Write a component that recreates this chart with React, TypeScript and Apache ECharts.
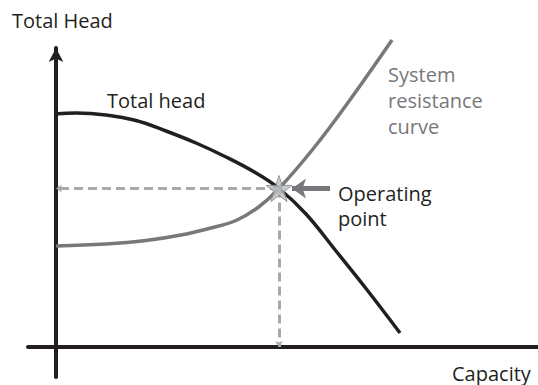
import React, { useEffect, useRef } from "react";
import * as echarts from "echarts";

// Capacity (x) and total head (y) of the pump curve
const headCapacity = [0, 4, 10, 16, 22, 28, 34, 40, 44.6, 50, 56, 62, 68.8];
const headValues = [46.6, 46.8, 46.4, 45.3, 43.2, 40.8, 38.0, 34.8, 31.7, 26.6, 19.2, 11.7, 2.8];
// System resistance curve
const systemCapacity = [0, 10, 18, 25, 31, 36, 40.4, 44.6, 51.4, 58.2, 67.2];
const systemValues = [20.2, 20.6, 21.3, 22.4, 23.8, 25.3, 27.9, 31.7, 39.6, 48.6, 61.4];
// Operating point (intersection)
const operatingPoint = [44.6, 31.7];
// Pointer arrow (capacity from / to) aimed at the operating point
const pointerFrom = 54.8;
const pointerTo = 47.2;

const labels = {
  yAxis: "Total Head",
  xAxis: "Capacity",
  head: "Total head",
  system: "System\nresistance\ncurve",
  op: "Operating\npoint",
};

const FONT = '"Open Sans", "Noto Sans", sans-serif';
const STAR =
  "path://M50,0 L61.8,35.2 L98.9,35.5 L69.1,57.7 L80.2,93.1 L50,71.5 L19.8,93.1 L30.9,57.7 L1.1,35.5 L38.2,35.2 Z";

export default function App() {
  const ref = useRef<HTMLDivElement>(null);
  useEffect(() => {
    if (!ref.current) return;
    const chart = echarts.init(ref.current, null, { renderer: "svg" });
    const axisColor = "#231f20";
    chart.setOption({
      animation: false,
      grid: { left: 28, right: 0, top: 48, bottom: 8 },
      xAxis: {
        type: "value",
        min: -5.6,
        max: 96.4,
        axisLine: {
          onZero: true,
          lineStyle: { color: axisColor, width: 4 },
          symbol: ["none", "none"],
        },
        axisTick: { show: false },
        axisLabel: { show: false },
        splitLine: { show: false },
      },
      yAxis: {
        type: "value",
        min: -6,
        max: 59.8,
        axisLine: {
          onZero: true,
          lineStyle: { color: axisColor, width: 4 },
          symbol: ["none", "arrow"],
          symbolSize: [11, 14],
        },
        axisTick: { show: false },
        axisLabel: { show: false },
        splitLine: { show: false },
      },
      series: [
        {
          type: "line",
          name: "guides",
          data: [],
          z: 1,
          markLine: {
            silent: true,
            symbol: ["none", "arrow"],
            symbolSize: [6, 6],
            label: { show: false },
            lineStyle: { type: [9, 5], color: "#a7a9ac", width: 3 },
            data: [
              [{ coord: operatingPoint }, { coord: [0, operatingPoint[1]] }],
              [{ coord: operatingPoint }, { coord: [operatingPoint[0], 0] }],
            ],
          },
        },
        {
          type: "line",
          name: "Total head",
          data: headCapacity.map((x, i) => [x, headValues[i]]),
          smooth: 0.4,
          symbol: "none",
          lineStyle: { color: "#231f20", width: 3.5 },
          z: 3,
        },
        {
          type: "line",
          name: "System resistance curve",
          data: systemCapacity.map((x, i) => [x, systemValues[i]]),
          smooth: 0.4,
          clip: false,
          symbol: "none",
          lineStyle: { color: "#77787b", width: 3.5 },
          z: 3,
        },
        {
          type: "line",
          name: "pointer",
          data: [],
          z: 4,
          markLine: {
            silent: true,
            symbol: ["none", "arrow"],
            symbolSize: [15, 14],
            label: { show: false },
            lineStyle: { type: "solid", color: "#77787b", width: 5 },
            data: [
              [
                { coord: [pointerFrom, operatingPoint[1]] },
                { coord: [pointerTo, operatingPoint[1]] },
              ],
            ],
          },
        },
        {
          type: "scatter",
          name: "Operating point",
          data: [operatingPoint],
          symbol: STAR,
          symbolSize: 26,
          itemStyle: { color: "#bcbec0", borderColor: "#808285", borderWidth: 1 },
          z: 5,
        },
      ],
      graphic: [
        {
          type: "text",
          left: 12,
          top: 10,
          style: { text: labels.yAxis, font: `20px ${FONT}`, fill: "#231f20" },
        },
        {
          type: "text",
          left: 107,
          top: 90,
          style: { text: labels.head, font: `20px ${FONT}`, fill: "#231f20" },
        },
        {
          type: "text",
          left: 388,
          top: 61,
          style: {
            text: labels.system,
            font: `20px ${FONT}`,
            fill: "#77787b",
            lineHeight: 26,
          },
        },
        {
          type: "text",
          left: 338,
          top: 181,
          style: {
            text: labels.op,
            font: `20px ${FONT}`,
            fill: "#231f20",
            lineHeight: 25,
          },
        },
        {
          type: "text",
          left: 452,
          top: 363,
          style: { text: labels.xAxis, font: `20px ${FONT}`, fill: "#231f20" },
        },
      ],
    });
    return () => chart.dispose();
  }, []);
  return (
    <div
      ref={ref}
      style={{ position: "fixed", left: 0, top: 0, width: 538, height: 385, background: "#fff" }}
    />
  );
}
